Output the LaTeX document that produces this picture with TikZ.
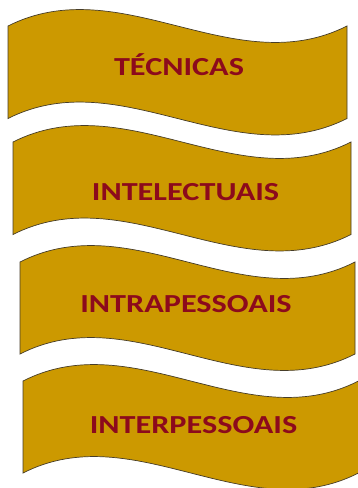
\documentclass[tikz,border=0pt]{standalone}
\usepackage{fontspec}
\setmainfont{Carlito}
\definecolor{bannergold}{RGB}{204,153,0}
\definecolor{bannertext}{RGB}{140,10,28}
\definecolor{banneredge}{RGB}{70,60,40}
\tikzset{
  bannerfill/.style={fill=bannergold, draw=banneredge, line width=0.7pt},
  bannerlabel/.style={text=bannertext, font=\fontsize{26}{30}\selectfont\bfseries, inner sep=0pt, anchor=center}
}
\newcommand\widelabel[1]{\scalebox{1.24}[1]{#1}}
\newcommand\wavebanner[4]{% L, R, top, bottom
  \pgfmathsetmacro\wbA{#1+(#2-#1)/3}%
  \pgfmathsetmacro\wbB{#1+2*(#2-#1)/3}%
  \pgfmathsetmacro\wbTu{#3-57}\pgfmathsetmacro\wbTd{#3+57}%
  \pgfmathsetmacro\wbBu{#4-57}\pgfmathsetmacro\wbBd{#4+57}%
  \path[bannerfill] (#1,#3) .. controls (\wbA,\wbTu) and (\wbB,\wbTd) .. (#2,#3)
    -- (#2,#4) .. controls (\wbB,\wbBd) and (\wbA,\wbBu) .. (#1,#4) -- cycle;
}
\begin{document}
\begin{tikzpicture}[x=1pt,y=-1pt]
\useasboundingbox (0,0) rectangle (358,488);
\begin{scope}
\clip (0,0) rectangle (358,488);
\wavebanner{8}{347}{26}{118.5}
\wavebanner{13}{351}{142}{234.5}
\wavebanner{20}{355}{262}{354}
\wavebanner{23}{358.5}{381}{473}
\end{scope}
\node[bannerlabel] (tec) at (179,65) {\widelabel{TÉCNICAS}};
\node[bannerlabel] (intel) at (185.5,192) {\widelabel{INTELECTUAIS}};
\node[bannerlabel] (intra) at (186,304) {\widelabel{INTRAPESSOAIS}};
\node[bannerlabel] (inter) at (193.5,425.5) {\widelabel{INTERPESSOAIS}};
\end{tikzpicture}
\end{document}
